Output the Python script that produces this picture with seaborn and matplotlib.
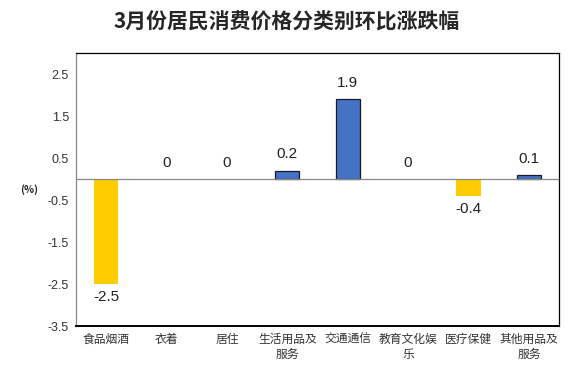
import matplotlib
matplotlib.use("Agg")
import matplotlib.pyplot as plt
import seaborn as sns

categories = ["食品烟酒", "衣着", "居住", "生活用品及\n服务", "交通通信", "教育文化娱\n乐", "医疗保健", "其他用品及\n服务"]
values = [-2.5, 0, 0, 0.2, 1.9, 0, -0.4, 0.1]
labels = ["-2.5", "0", "0", "0.2", "1.9", "0", "-0.4", "0.1"]
yticks = [2.5, 1.5, 0.5, -0.5, -1.5, -2.5, -3.5]

sns.set_style("white")
plt.rcParams["font.family"] = ["Noto Sans CJK SC", "DejaVu Sans"]
num_font = ["Liberation Sans", "DejaVu Sans"]

fig = plt.figure(figsize=(5.74, 3.74), dpi=100)
ax = fig.add_axes([0.1324, 0.128, 0.8416, 0.73])

colors = ["#FFCC00" if v < 0 else "#4472C4" for v in values]
sns.barplot(x=list(range(len(categories))), y=values, hue=list(range(len(categories))),
            palette=colors, legend=False, width=0.4, ax=ax, saturation=1)

# dark outline on the positive (blue) bars only
for patch, v in zip(ax.patches, values):
    if v > 0:
        patch.set_edgecolor("#1A1A2E")
        patch.set_linewidth(0.9)
    else:
        patch.set_linewidth(0)

for i, (v, lab) in enumerate(zip(values, labels)):
    if v < 0:
        ax.text(i, v - 0.14, lab, ha="center", va="top", fontsize=11, color="#222222", family=num_font)
    else:
        ax.text(i, v + 0.22, lab, ha="center", va="bottom", fontsize=11, color="#222222", family=num_font)

ax.axhline(0, color="#888888", lw=0.9)
ax.set_ylim(-3.5, 3.0)
ax.set_xlim(-0.5, len(categories) - 0.5)
ax.set_yticks(yticks)
ax.set_yticklabels([str(t) for t in yticks], fontsize=9, color="#333333", family=num_font)
ax.set_xticks(range(len(categories)))
ax.set_xticklabels(categories, fontsize=8.5, color="#333333", linespacing=1.15)
ax.tick_params(axis="both", length=0, pad=5)
ax.set_xlabel("")
ax.set_ylabel("")

ax.spines["left"].set_color("#888888")
ax.spines["left"].set_linewidth(0.9)
ax.spines["bottom"].set_color("black")
ax.spines["bottom"].set_linewidth(1.4)
for s in ["top", "right"]:
    ax.spines[s].set_color("black")
    ax.spines[s].set_linewidth(0.9)

fig.text(0.05, (374 - 190) / 374, "(%)", fontsize=7.5, fontweight="bold", ha="center", va="center")
fig.text(0.5, (374 - 22) / 374, "3月份居民消费价格分类别环比涨跌幅", fontsize=15,
         fontweight="bold", ha="center", va="center")

fig.savefig("out.png", dpi=100)
